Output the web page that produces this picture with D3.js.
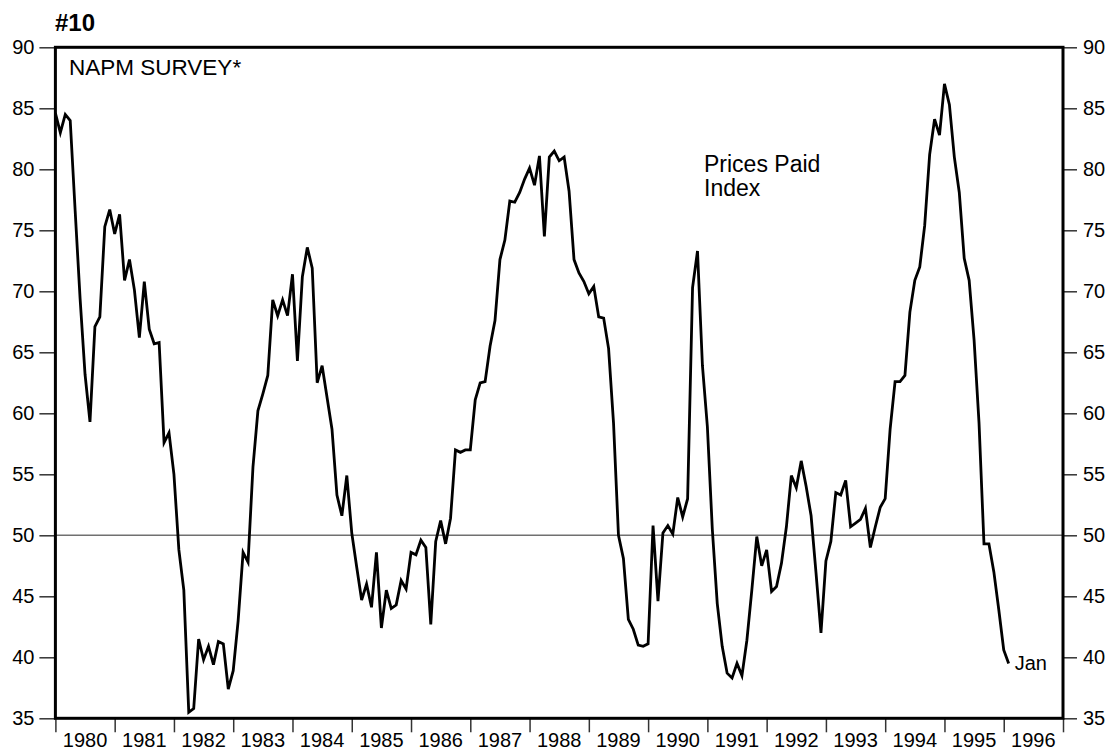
<!DOCTYPE html>
<html>
<head>
<meta charset="utf-8">
<script src="https://cdn.jsdelivr.net/npm/d3@7"></script>
<style>
  html, body { margin: 0; padding: 0; background: #fff; }
  svg { display: block; font-family: "Liberation Sans", Arial, Helvetica, sans-serif; }
</style>
</head>
<body>
<svg id="chart" width="1112" height="750"></svg>
<script>
// Monthly Prices Paid index, month-end points from Dec 1979 through Jan 1996
const values = [
  84.6, 83.0, 84.5, 84.0, 76.6, 69.4, 63.2, 59.3, 67.1, 67.9, 75.3, 76.7,
  74.7, 76.3, 70.9, 72.6, 70.1, 66.2, 70.8, 66.9, 65.7, 65.8, 57.6, 58.4,
  55.0, 48.8, 45.5, 35.5, 35.8, 41.5, 39.8, 40.9, 39.4, 41.3, 41.1, 37.4,
  38.9, 43.0, 48.6, 47.8, 55.6, 60.2, 61.6, 63.1, 69.3, 68.0, 69.3, 68.0,
  71.4, 64.3, 71.2, 73.6, 71.9, 62.5, 63.9, 61.3, 58.7, 53.3, 51.6, 54.9,
  50.2, 47.4, 44.7, 46.0, 44.1, 48.6, 42.4, 45.5, 44.0, 44.3, 46.3, 45.6,
  48.6, 48.4, 49.6, 49.0, 42.7, 49.5, 51.2, 49.3, 51.4, 57.0, 56.8, 57.0,
  57.0, 61.1, 62.5, 62.6, 65.5, 67.6, 72.6, 74.2, 77.4, 77.3, 78.1, 79.2,
  80.1, 78.7, 81.1, 74.5, 81.0, 81.5, 80.7, 81.0, 78.2, 72.6, 71.5, 70.8,
  69.8, 70.4, 67.9, 67.8, 65.3, 59.2, 50.0, 48.1, 43.1, 42.3, 41.0, 40.9,
  41.1, 50.8, 44.6, 50.2, 50.8, 50.1, 53.1, 51.5, 53.0, 70.3, 73.3, 63.9,
  58.9, 50.5, 44.4, 40.9, 38.7, 38.3, 39.5, 38.5, 41.4, 45.5, 49.9, 47.5,
  48.8, 45.4, 45.8, 47.7, 50.7, 54.9, 53.9, 56.1, 54.0, 51.6, 46.9, 42.0,
  47.9, 49.5, 53.5, 53.3, 54.5, 50.7, 51.0, 51.3, 52.2, 49.0, 50.7, 52.3,
  53.0, 58.7, 62.6, 62.6, 63.1, 68.3, 70.9, 72.0, 75.4, 81.2, 84.1, 82.8,
  87.0, 85.3, 81.0, 78.1, 72.7, 70.9, 66.0, 59.2, 49.3, 49.3, 47.0, 43.9,
  40.6, 39.5
];
const startYear = 1980;           // first point sits at the start of 1980 (end of Dec 1979)
const years = d3.range(1980, 1997);           // year labels 1980..1996
const yearTicks = d3.range(1980, 1998);       // tick boundaries
const yTicks = [35, 40, 45, 50, 55, 60, 65, 70, 75, 80, 85, 90];
const refValue = 50;
const title = "#10";
const surveyLabel = "NAPM SURVEY*";
const seriesLabel = ["Prices Paid", "Index"];
const endLabel = "Jan";

(function () {
const svg = d3.select("#chart");
const pl = 55.4, pr = 1063, pt = 47.3, pb = 718.3;

const x = d3.scaleLinear().domain([1980, 1997]).range([pl, pr]);
const y = d3.scaleLinear().domain([35, 90]).range([pb, pt]);

const tickColor = "#333";
const fs = 20;

// reference line at 50
svg.append("line")
  .attr("x1", pl).attr("x2", pr)
  .attr("y1", y(refValue)).attr("y2", y(refValue))
  .attr("stroke", "#707070").attr("stroke-width", 1.5);

// left axis
const yLeft = d3.axisLeft(y).tickValues(yTicks).tickSize(16).tickPadding(5).tickFormat(d3.format("d"));
const gL = svg.append("g").attr("transform", `translate(${pl},0)`).call(yLeft);
gL.select(".domain").remove();
gL.selectAll(".tick line").attr("stroke", tickColor).attr("stroke-width", 1.5);
gL.selectAll(".tick text").attr("font-size", fs).attr("fill", "#000")
  .attr("font-family", "'Liberation Sans', Arial, sans-serif");

// right axis
const yRight = d3.axisRight(y).tickValues(yTicks).tickSize(14).tickPadding(6).tickFormat(d3.format("d"));
const gR = svg.append("g").attr("transform", `translate(${pr},0)`).call(yRight);
gR.select(".domain").remove();
gR.selectAll(".tick line").attr("stroke", tickColor).attr("stroke-width", 1.5);
gR.selectAll(".tick text").attr("font-size", fs).attr("fill", "#000")
  .attr("font-family", "'Liberation Sans', Arial, sans-serif");

// bottom year ticks (boundaries)
const xAxis = d3.axisBottom(x).tickValues(yearTicks).tickSize(14).tickFormat("");
const gB = svg.append("g").attr("transform", `translate(0,${pb})`).call(xAxis);
gB.select(".domain").remove();
gB.selectAll(".tick line").attr("stroke", tickColor).attr("stroke-width", 1.5);

// year labels centered within each year
svg.append("g").selectAll("text").data(years).join("text")
  .attr("x", d => x(d + 0.5))
  .attr("y", 747)
  .attr("text-anchor", "middle")
  .attr("font-size", fs)
  .text(d => d);

// data line
const line = d3.line()
  .x((d, i) => x(startYear + i / 12))
  .y(d => y(d));
svg.append("path")
  .datum(values)
  .attr("fill", "none")
  .attr("stroke", "#000")
  .attr("stroke-width", 2.8)
  .attr("stroke-linejoin", "miter")
  .attr("d", line);

// frame
svg.append("rect")
  .attr("x", pl).attr("y", pt)
  .attr("width", pr - pl).attr("height", pb - pt)
  .attr("fill", "none").attr("stroke", "#000").attr("stroke-width", 3);

// texts
svg.append("text").attr("x", 55).attr("y", 31)
  .attr("font-size", 24).attr("font-weight", "bold").text(title);
svg.append("text").attr("x", 69).attr("y", 75)
  .attr("font-size", 22.5).text(surveyLabel);
svg.append("text").attr("x", 704).attr("y", 172)
  .attr("font-size", 23)
  .selectAll("tspan").data(seriesLabel).join("tspan")
  .attr("x", 704).attr("dy", (d, i) => i === 0 ? 0 : 24).text(d => d);

const lastI = values.length - 1;
svg.append("text")
  .attr("x", x(startYear + lastI / 12) + 6)
  .attr("y", y(values[lastI]) + 7)
  .attr("font-size", 20).text(endLabel);
})();
</script>
</body>
</html>
